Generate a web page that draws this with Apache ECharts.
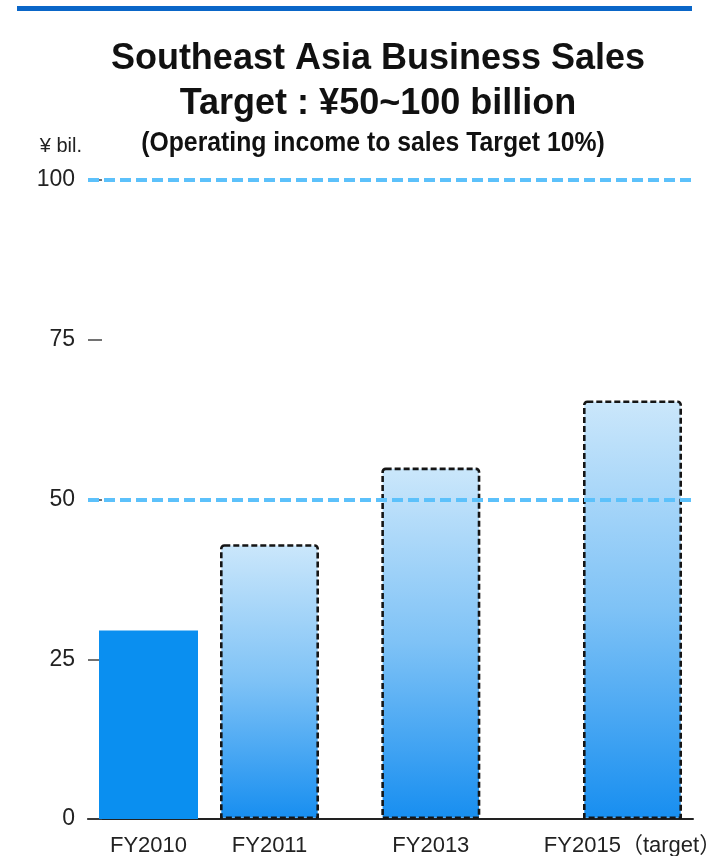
<!DOCTYPE html>
<html>
<head>
<meta charset="utf-8">
<script src="https://cdn.jsdelivr.net/npm/echarts@6/dist/echarts.min.js"></script>
<style>
  html, body { margin: 0; padding: 0; background: #fff; }
  #chart { width: 709px; height: 856px; }
</style>
</head>
<body>
<div id="chart"></div>
<script>
// ---- data ----
const categories = ['FY2010', 'FY2011', 'FY2013', 'FY2015（target）'];
const sales = [29.5, 43, 55, 65.5];           // ¥ billion
const isPlan = [false, true, true, true];      // plan/target years get a dashed outline
const targetLines = [50, 100];                 // target range bounds
const yTickValues = [0, 25, 50, 75, 100];

// ---- layout: fiscal years sit on an uneven time grid, so spread them over slots ----
const slotCount = 15;
const slotOf = [1, 4, 8, 13];
const axisCats = new Array(slotCount).fill('');
const axisVals = new Array(slotCount).fill('-');
categories.forEach((c, i) => {
  axisCats[slotOf[i]] = c;
  axisVals[slotOf[i]] = i;
});

const planFill = {
  type: 'linear', x: 0, y: 0, x2: 0, y2: 1,
  colorStops: [
    { offset: 0, color: '#cbe7fb' },
    { offset: 0.5, color: '#7ec2f6' },
    { offset: 1, color: '#178ef0' }
  ]
};

const barData = axisVals.map(v => {
  if (v === '-') return '-';
  return {
    value: sales[v],
    itemStyle: isPlan[v]
      ? { color: planFill, borderColor: '#151515', borderWidth: 2.6, borderType: [6, 3], borderRadius: [3, 3, 0, 0] }
      : { color: '#0a8ff0', borderWidth: 0 }
  };
});

const titleFont = "'Liberation Sans', Arial, sans-serif";

const chart = echarts.init(document.getElementById('chart'), null, { renderer: 'canvas' });
chart.setOption({
  animation: false,
  backgroundColor: '#ffffff',
  graphic: [
    { type: 'rect', left: 17, top: 6, shape: { width: 675, height: 5 }, style: { fill: '#0a66c8' } },
    {
      // condensed subtitle line
      type: 'text', x: 373, y: 143, scaleX: 0.885,
      style: {
        text: '(Operating income to sales Target 10%)',
        font: "bold 28px 'Liberation Sans', Arial, sans-serif",
        fill: '#111', textAlign: 'center', textVerticalAlign: 'middle'
      }
    }
  ],
  title: [
    {
      text: 'Southeast Asia Business Sales',
      left: 373, top: 36, textAlign: 'center',
      textStyle: { fontFamily: titleFont, fontWeight: 'bold', fontSize: 36, color: '#111' }
    },
    {
      text: 'Target : ¥50~100 billion',
      left: 373, top: 81, textAlign: 'center',
      textStyle: { fontFamily: titleFont, fontWeight: 'bold', fontSize: 36, color: '#111' }
    }
  ],
  grid: { left: 88, right: 16, top: 180, bottom: 37, containLabel: false, outerBoundsMode: 'none' },
  xAxis: {
    type: 'category',
    data: axisCats,
    axisLine: { show: true, lineStyle: { color: '#222', width: 2 } },
    axisTick: { show: false },
    axisLabel: {
      interval: 0, margin: 16,
      fontFamily: "'Liberation Sans', Arial, 'Noto Sans CJK JP', sans-serif",
      fontSize: 22, color: '#222'
    },
    splitLine: { show: false }
  },
  yAxis: {
    type: 'value',
    min: yTickValues[0],
    max: yTickValues[yTickValues.length - 1],
    interval: 25,
    name: '¥ bil.',
    nameLocation: 'end',
    nameGap: 24,
    nameTextStyle: {
      align: 'right', padding: [0, 6, 0, 0],
      fontFamily: "'Liberation Sans', Arial, sans-serif", fontSize: 20, color: '#222'
    },
    axisLine: { show: false },
    axisTick: { show: true, inside: true, length: 14, lineStyle: { color: '#444', width: 1.5 } },
    axisLabel: {
      margin: 13,
      fontFamily: "'Liberation Sans', Arial, sans-serif", fontSize: 23, color: '#222'
    },
    splitLine: { show: false }
  },
  series: [
    {
      type: 'bar',
      data: barData,
      barWidth: 99,
      z: 2,
      markLine: {
        silent: true,
        symbol: ['none', 'none'],
        label: { show: false },
        lineStyle: { color: '#5cc1fb', width: 4, type: [11, 5] },
        data: targetLines.map(v => ({ yAxis: v })),
        z: 5
      }
    }
  ]
});
</script>
</body>
</html>
